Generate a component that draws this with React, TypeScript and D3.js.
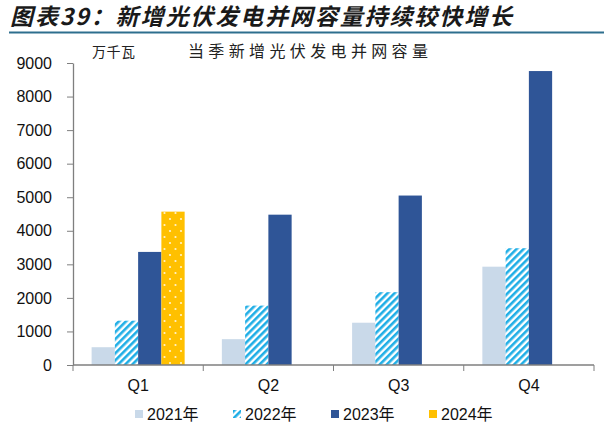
import React, { useEffect, useRef } from 'react';
import * as d3 from 'd3';

const quarters = ['Q1', 'Q2', 'Q3', 'Q4'];
const years = ['2021年', '2022年', '2023年', '2024年'];
const v2021 = [530, 770, 1260, 2930];
const v2022 = [1320, 1770, 2170, 3480];
const v2023 = [3370, 4480, 5050, 8760];
const v2024 = [4570, null, null, null];
const yTicks = [0, 1000, 2000, 3000, 4000, 5000, 6000, 7000, 8000, 9000];

const seriesValues = [v2021, v2022, v2023, v2024];
const fills = ['#C9D9E9', 'url(#hatch)', '#2F5597', 'url(#dots)'];
const legendFills = ['#C9D9E9', '#1FAEE6', '#2F5597', '#FFC000'];

const App: React.FC = () => {
  const svgRef = useRef<SVGSVGElement>(null);

  useEffect(() => {
    if (!svgRef.current) return;
    const svg = d3.select(svgRef.current);
    svg.selectAll('*').remove();

    const width = 604;
    const height = 433;
    const margin = { top: 63, right: 10, bottom: 68, left: 73 };

    const defs = svg.append('defs');
    const hatch = defs.append('pattern')
      .attr('id', 'hatch')
      .attr('patternUnits', 'userSpaceOnUse')
      .attr('width', 5)
      .attr('height', 5)
      .attr('patternTransform', 'rotate(45)');
    hatch.append('rect').attr('width', 5).attr('height', 5).attr('fill', '#fff');
    hatch.append('rect').attr('width', 2.6).attr('height', 5).attr('fill', '#1FAEE6');

    const dots = defs.append('pattern')
      .attr('id', 'dots')
      .attr('patternUnits', 'userSpaceOnUse')
      .attr('width', 11)
      .attr('height', 12)
      .attr('x', 2);
    dots.append('rect').attr('width', 11).attr('height', 12).attr('fill', '#FFC000');
    dots.append('circle').attr('cx', 3).attr('cy', 3).attr('r', 1.1).attr('fill', '#FFF3CC');
    dots.append('circle').attr('cx', 8.5).attr('cy', 9).attr('r', 1.1).attr('fill', '#FFF3CC');

    // title
    svg.append('text')
      .attr('x', 10)
      .attr('y', 25)
      .attr('textLength', 502)
      .attr('lengthAdjust', 'spacing')
      .style('font-family', '"Noto Sans CJK SC", sans-serif')
      .style('font-size', '23px')
      .style('font-weight', 'bold')
      .style('font-style', 'italic')
      .style('fill', '#1a1a1a')
      .text('图表39：新增光伏发电并网容量持续较快增长');

    svg.append('line')
      .attr('x1', 9).attr('x2', width)
      .attr('y1', 32.5).attr('y2', 32.5)
      .attr('stroke', '#2E6F8E')
      .attr('stroke-width', 2);

    svg.append('text')
      .attr('x', 92)
      .attr('y', 57)
      .attr('textLength', 43)
      .attr('lengthAdjust', 'spacing')
      .style('font-family', '"Noto Sans CJK SC", sans-serif')
      .style('font-size', '14px')
      .style('fill', '#222')
      .text('万千瓦');

    svg.append('text')
      .attr('x', 188)
      .attr('y', 57)
      .attr('textLength', 240)
      .attr('lengthAdjust', 'spacing')
      .style('font-family', '"Noto Sans CJK SC", sans-serif')
      .style('font-size', '16px')
      .style('fill', '#222')
      .text('当季新增光伏发电并网容量');

    const x0 = d3.scaleBand<string>()
      .domain(quarters)
      .range([margin.left, width - margin.right])
      .paddingInner(0)
      .paddingOuter(0);

    const x1 = d3.scaleBand<string>()
      .domain(years)
      .range([0, x0.bandwidth()])
      .paddingInner(0)
      .paddingOuter(0.8);

    const y = d3.scaleLinear()
      .domain([0, 9000])
      .range([height - margin.bottom, margin.top]);

    // bars
    seriesValues.forEach((vals, si) => {
      svg.append('g')
        .selectAll('rect')
        .data(quarters.map((q, i) => ({ q, v: vals[i] })).filter(d => d.v != null))
        .enter().append('rect')
        .attr('x', d => (x0(d.q) as number) + (x1(years[si]) as number))
        .attr('y', d => y(d.v as number))
        .attr('width', x1.bandwidth())
        .attr('height', d => y(0) - y(d.v as number))
        .attr('fill', fills[si]);
    });

    // y axis
    const yAxis = svg.append('g')
      .attr('transform', `translate(${margin.left},0)`)
      .call(d3.axisLeft(y).tickValues(yTicks).tickSize(6).tickSizeOuter(0).tickPadding(15).tickFormat(d3.format('d')));
    yAxis.selectAll('line').attr('stroke', '#7f7f7f');
    yAxis.select('.domain').attr('stroke', '#7f7f7f').attr('stroke-width', 1.3);
    yAxis.selectAll('text')
      .style('font-family', '"Liberation Sans", Arial, sans-serif')
      .style('font-size', '16px')
      .style('fill', '#111');

    // x axis
    const xAxis = svg.append('g')
      .attr('transform', `translate(0,${y(0)})`);
    xAxis.append('line')
      .attr('x1', margin.left).attr('x2', width - margin.right)
      .attr('stroke', '#7f7f7f').attr('stroke-width', 1.3);
    const bounds = quarters.map(q => x0(q) as number).concat([width - margin.right]);
    xAxis.selectAll('.tick-b')
      .data(bounds)
      .enter().append('line')
      .attr('x1', d => d).attr('x2', d => d)
      .attr('y1', 0).attr('y2', 6)
      .attr('stroke', '#7f7f7f');
    xAxis.selectAll('.lbl')
      .data(quarters)
      .enter().append('text')
      .attr('x', d => (x0(d) as number) + x0.bandwidth() / 2)
      .attr('y', 26)
      .attr('text-anchor', 'middle')
      .style('font-family', '"Liberation Sans", Arial, sans-serif')
      .style('font-size', '16px')
      .style('fill', '#111')
      .text(d => d);

    // legend
    const legendX = [135, 233, 331, 429];
    const lg = svg.append('g');
    years.forEach((yr, i) => {
      const g = lg.append('g').attr('transform', `translate(${legendX[i]},${410})`);
      if (i === 1) {
        g.append('rect').attr('width', 8).attr('height', 8).attr('fill', 'url(#hatch)');
      } else {
        g.append('rect').attr('width', 8).attr('height', 8).attr('fill', legendFills[i]);
      }
      g.append('text')
        .attr('x', 12)
        .attr('y', 9.5)
        .style('font-family', '"Liberation Sans", Arial, "Noto Sans CJK SC", sans-serif')
        .style('font-size', '16px')
        .style('fill', '#111')
        .text(yr);
    });
  }, []);

  return (
    <div style={{ position: 'absolute', left: 0, top: 0 }}>
      <svg ref={svgRef} width={604} height={433} style={{ display: 'block', background: '#fff' }} />
    </div>
  );
};

export default App;
